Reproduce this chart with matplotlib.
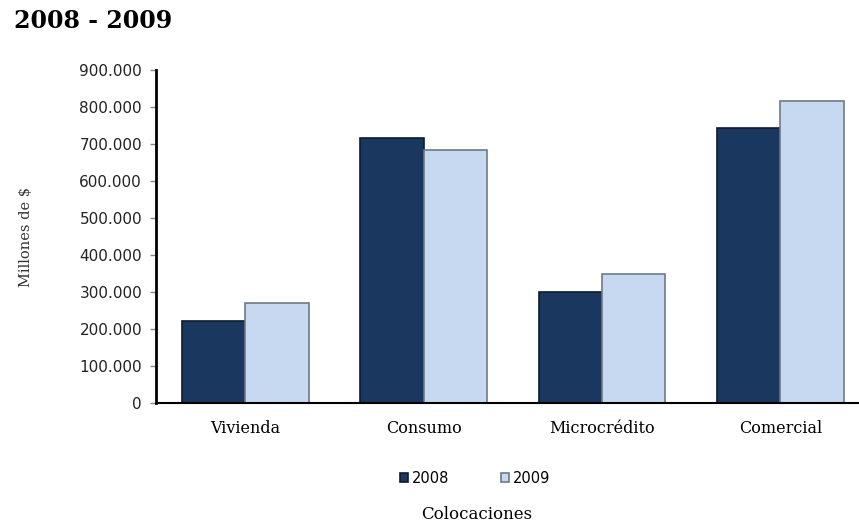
import numpy as np
import matplotlib.pyplot as plt
from matplotlib.ticker import FuncFormatter

# Colocaciones por tipo de crédito, millones de $
categorias = ['Vivienda', 'Consumo', 'Microcrédito', 'Comercial']
valores_2008 = [222000, 716000, 300000, 743000]
valores_2009 = [271000, 684000, 349000, 816000]

color_2008 = '#1a3760'
color_2009 = '#c6d9f0'

fig = plt.figure(figsize=(8.59, 5.26), dpi=100)
ax = fig.add_axes([0.1816, 0.2338, 0.8184, 0.633])

x = np.arange(len(categorias))
ancho = 0.355
b1 = ax.bar(x - ancho / 2, valores_2008, ancho, color=color_2008,
            edgecolor='#0d1a2e', linewidth=1.2, label='2008')
b2 = ax.bar(x + ancho / 2, valores_2009, ancho, color=color_2009,
            edgecolor='#6e7a88', linewidth=1.2, label='2009')

ax.set_xlim(-0.5, 3.44)
ax.set_ylim(0, 900000)
ax.set_yticks(np.arange(0, 900001, 100000))
ax.yaxis.set_major_formatter(FuncFormatter(lambda v, p: f'{int(v):,}'.replace(',', '.')))
ax.set_xticks(x)
ax.set_xticklabels(categorias, family='DejaVu Serif', fontsize=11.5)

for s in ['top', 'right']:
    ax.spines[s].set_visible(False)
ax.spines['left'].set_linewidth(2)
ax.spines['bottom'].set_linewidth(1.5)
ax.tick_params(axis='y', length=4, width=1, color='#888888', labelsize=11,
               labelcolor='#222222', pad=6)
ax.tick_params(axis='x', length=0, pad=12)

ax.set_ylabel('Millones de $', family='DejaVu Serif', fontsize=10.5, color='#333333')
ax.yaxis.set_label_coords(-0.175, 0.5)

fig.text(0.016, 0.96, '2008 - 2009', family='DejaVu Serif', fontweight='bold',
         fontsize=17, va='center')

fig.legend(handles=[b1, b2], loc='center', bbox_to_anchor=(0.553, 0.091), ncol=2,
           frameon=False, fontsize=10.5, handlelength=0.6, handleheight=0.6,
           handletextpad=0.25, columnspacing=3.5)

fig.text(0.555, 0.021, 'Colocaciones', family='DejaVu Serif', fontsize=12,
         ha='center', va='center')

fig.savefig('out.png', dpi=100)
